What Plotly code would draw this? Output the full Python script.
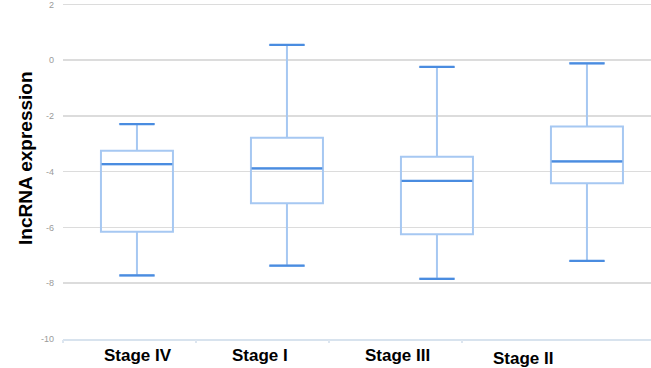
import plotly.graph_objects as go

categories = ["Stage IV", "Stage I", "Stage III", "Stage II"]
lower_whisker = [-7.72, -7.37, -7.84, -7.20]
q1_values = [-6.15, -5.13, -6.24, -4.41]
median_values = [-3.73, -3.88, -4.33, -3.63]
q3_values = [-3.25, -2.78, -3.46, -2.38]
upper_whisker = [-2.29, 0.55, -0.24, -0.11]
y_tick_values = [2, 0, -2, -4, -6, -8, -10]

light = "#a6c8f2"
dark = "#4a8ce0"

W, H = 651, 368
ml, mb, mt, mr = 63, 29, 0, 0
pw = W - ml - mr
ph = H - mb - mt

fig = go.Figure()
fig.add_trace(go.Box(
    x=categories, q1=q1_values, median=median_values, q3=q3_values,
    lowerfence=lower_whisker, upperfence=upper_whisker,
    width=0.48, whiskerwidth=0.5,
    line=dict(color=light, width=2), fillcolor="rgba(255,255,255,0)",
    boxpoints=False, showlegend=False, hoverinfo="skip",
))
# darker median lines (line-ew symbol spans 1.4 x size)
fig.add_trace(go.Scatter(
    x=categories, y=median_values, mode="markers", showlegend=False,
    marker=dict(symbol="line-ew-open", size=50.5, color=dark, line=dict(color=dark, width=2.2)),
    hoverinfo="skip",
))
# darker whisker caps
fig.add_trace(go.Scatter(
    x=categories + categories, y=upper_whisker + lower_whisker, mode="markers",
    showlegend=False,
    marker=dict(symbol="line-ew-open", size=25, color=dark, line=dict(color=dark, width=2.2)),
    hoverinfo="skip",
))

# x category labels placed as in the reference
label_px = [138, 260, 397, 523]
label_py = [355, 355, 355, 358]
annotations = []
for cat, px, py in zip(categories, label_px, label_py):
    annotations.append(dict(
        text="<b>" + cat + "</b>", xref="paper", yref="paper",
        x=(px - ml) / pw, y=1 - (py - mt) / ph,
        xanchor="center", yanchor="middle", showarrow=False,
        font=dict(family="Liberation Sans, Arial, sans-serif", size=17, color="#000"),
    ))
annotations.append(dict(
    text="<b>lncRNA expression</b>", xref="paper", yref="paper",
    x=(25 - ml) / pw, y=1 - (158 - mt) / ph, textangle=-90,
    xanchor="center", yanchor="middle", showarrow=False,
    font=dict(family="Liberation Sans, Arial, sans-serif", size=19, color="#000"),
))

fig.update_layout(
    width=W, height=H,
    margin=dict(l=ml, r=mr, t=mt, b=mb),
    plot_bgcolor="white", paper_bgcolor="white",
    annotations=annotations,
    xaxis=dict(
        type="category", categoryorder="array", categoryarray=categories,
        range=[-0.493, 3.427], showticklabels=False, showgrid=False,
        showline=True, linecolor="#d8e3ee", linewidth=2, zeroline=False,
    ),
    xaxis2=dict(
        overlaying="x", anchor="y", side="bottom", range=[0, pw],
        tickvals=[0, 133, 266, 399], ticks="outside", ticklen=3,
        tickwidth=2, tickcolor="#dde6f0", showticklabels=False,
        showgrid=False, zeroline=False, showline=False,
    ),
    yaxis=dict(
        range=[-10, 2.16], tickvals=y_tick_values,
        ticktext=[str(v) for v in y_tick_values],
        showgrid=True, gridcolor="#dcdcdc", gridwidth=1.5, zeroline=False,
        tickfont=dict(family="Liberation Sans, Arial, sans-serif", size=9, color="#9a9a9a"),
        ticklabelstandoff=8, showline=False, ticklabeloverflow="allow",
    ),
)
fig.add_trace(go.Scatter(x=[], y=[], xaxis="x2", showlegend=False, hoverinfo="skip"))

fig.write_html(
    "out.html",
    config={"displayModeBar": False, "staticPlot": True},
    post_script="document.body.style.margin='0';document.body.style.overflow='hidden';",
)
